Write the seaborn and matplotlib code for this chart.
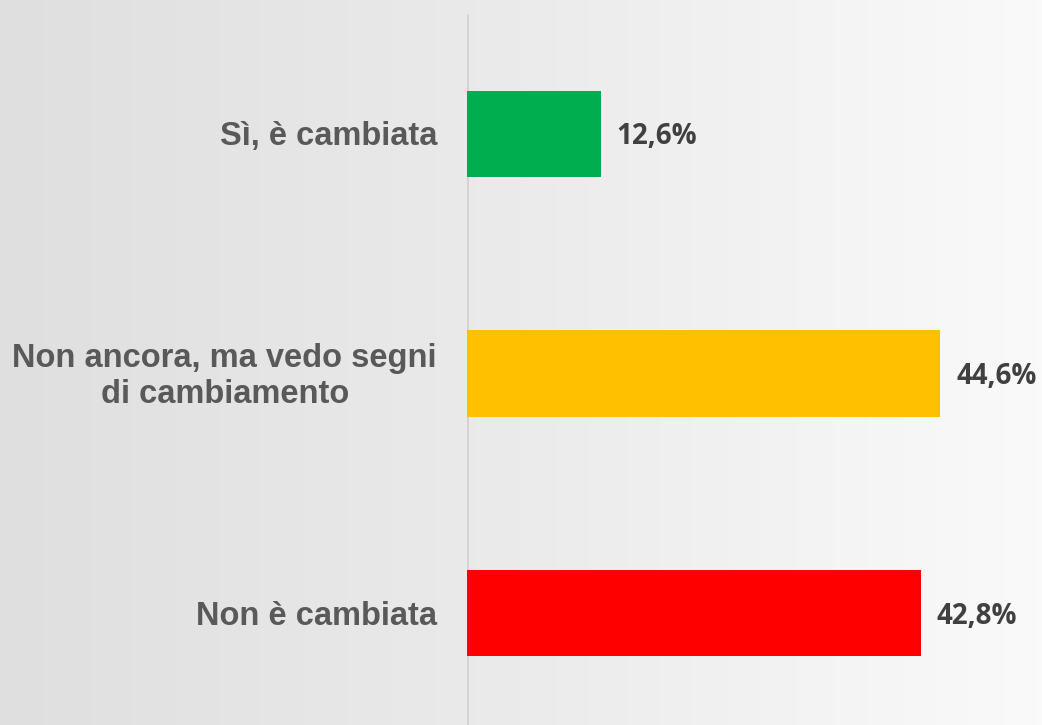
import numpy as np
import pandas as pd
import matplotlib
matplotlib.use("Agg")
import matplotlib.pyplot as plt
import matplotlib.transforms as mtransforms
import seaborn as sns

categories = ["Sì, è cambiata", "Non ancora, ma vedo segni\ndi cambiamento", "Non è cambiata"]
values = [12.6, 44.6, 42.8]
value_labels = ["12,6%", "44,6%", "42,8%"]
colors = ["#00ad4f", "#ffc000", "#ff0000"]

df = pd.DataFrame({"risposta": categories, "pct": values})

sns.set_style("white")

W, H = 1042, 725
fig = plt.figure(figsize=(W / 100, H / 100), dpi=100)

# light grey gradient background
bg = fig.add_axes([0, 0, 1, 1])
grad = np.linspace(0, 1, 256)[None, :]
bg.imshow(grad, aspect="auto", cmap=matplotlib.colors.LinearSegmentedColormap.from_list(
    "bg", ["#dfdfdf", "#ebebeb", "#fafafa"]), extent=[0, 1, 0, 1])
bg.axis("off")

x0 = 467 / W
ax = fig.add_axes([x0, 0, 1 - x0, 1])
ax.patch.set_alpha(0)
sns.barplot(data=df, y="risposta", x="pct", hue="risposta", palette=colors,
            width=0.36, dodge=False, legend=False, ax=ax, saturation=1, linewidth=0)

ax.set_xlim(0, 54.2)
ax.set_ylim(2 + 112 / 240, -0.5 - 14 / 240)
ax.vlines(0, -0.5, 2.6, color="#d2d2d2", linewidth=2, zorder=0)
for s in ax.spines.values():
    s.set_visible(False)
ax.set_xticks([])
ax.set_yticks([])
ax.set_xlabel("")
ax.set_ylabel("")

# category labels, right-aligned 30 px left of the axis
lab_tr = mtransforms.offset_copy(ax.get_yaxis_transform(), fig=fig, x=-30, y=-3, units="dots")
for i, c in enumerate(categories):
    ax.text(0, i, c, transform=lab_tr, ha="right", va="center", multialignment="center",
            fontsize=23.5, fontweight="bold", color="#595959", family="Liberation Sans",
            linespacing=1.2)

val_tr = mtransforms.offset_copy(ax.transData, fig=fig, x=0, y=-3, units="dots")
for i, (v, t) in enumerate(zip(values, value_labels)):
    ax.text(v + 1.5, i, t, transform=val_tr, va="center", ha="left", fontsize=20,
            fontweight="bold", color="#404040", family="Open Sans")

fig.savefig("out.png", dpi=100)
